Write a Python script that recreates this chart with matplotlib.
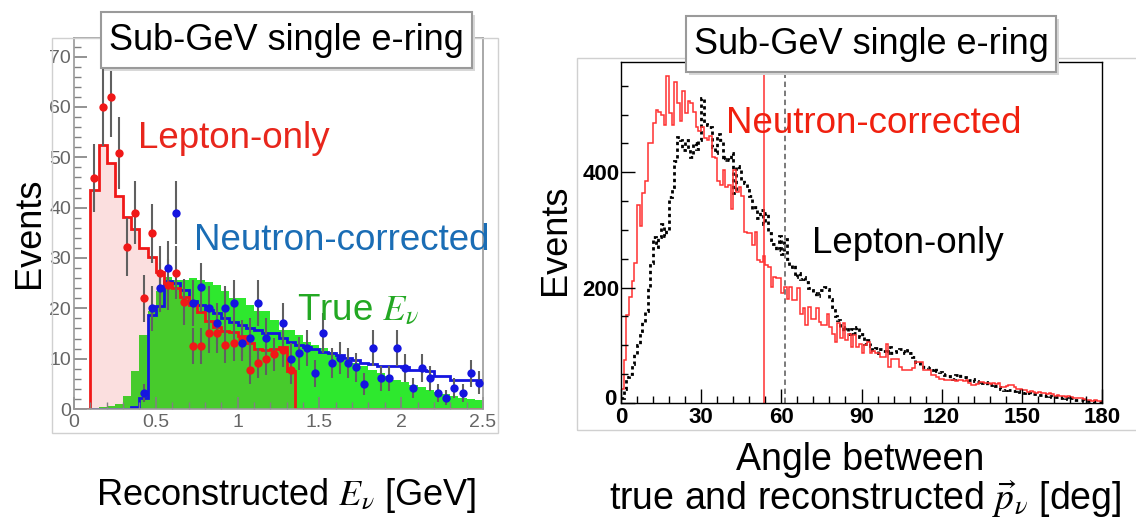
import numpy as np
import matplotlib
matplotlib.use('Agg')
import matplotlib.pyplot as plt
from matplotlib.patches import Rectangle
from matplotlib.ticker import MultipleLocator
from matplotlib.transforms import ScaledTranslation

plt.rcParams['font.family'] = ['Liberation Sans', 'DejaVu Sans']
plt.rcParams['mathtext.fontset'] = 'stix'

# ---- left: reconstructed neutrino energy (0.05 GeV bins, 0 - 2.5 GeV) ----
e_edges = np.linspace(0, 2.5, 51)
true_enu = [0, 0, 0.1, 0.3, 0.6, 1.0, 2.5, 7.5, 14.7, 19.4,
            23.4, 26.3, 25.7, 25.7, 26.0, 25.7, 25.3, 24.7, 23.5, 22.0,
            22.0, 20.7, 19.4, 19.4, 17.7, 15.7, 15.7, 14.7, 13.4, 12.8,
            12.2, 11.4, 10.8, 9.8, 9.1, 8.5, 7.8, 7.2, 6.5, 5.8,
            5.3, 4.8, 4.3, 3.8, 3.4, 3.0, 2.6, 2.2, 2.0, 1.7]
lep_mc = [0, 0, 43.6, 52.4, 48.9, 42.3, 38.2, 35.7, 32.0, 30.2,
          27.2, 25.0, 24.0, 22.2, 20.7, 19.2, 17.4, 16.2, 15.5, 15.2,
          14.6, 13.1, 11.9, 11.8, 11.9, 12.3, 7.5, 0, 0, 0,
          0, 0, 0, 0, 0, 0, 0, 0, 0, 0,
          0, 0, 0, 0, 0, 0, 0, 0, 0, 0]
ncor_mc = [0, 0, 0, 0, 0, 0, 0, 0.3, 2.2, 18.7,
           20.5, 25.5, 25.0, 23.7, 21.4, 20.7, 19.7, 19.0, 18.0, 17.2,
           16.6, 16.0, 15.7, 15.0, 15.0, 14.1, 13.4, 12.8, 12.4, 12.0,
           11.4, 11.2, 10.8, 10.2, 9.8, 9.2, 9.0, 8.5, 8.5, 8.5,
           8.3, 7.8, 7.8, 7.6, 6.5, 6.5, 5.8, 5.8, 5.8, 5.8]

lep_x = [0.125, 0.175, 0.225, 0.275, 0.325, 0.375, 0.425, 0.475, 0.525,
         0.575, 0.625, 0.675, 0.725, 0.775, 0.825, 0.875, 0.925, 0.975,
         1.025, 1.075, 1.125, 1.175, 1.225, 1.275, 1.325]
lep_y = [45.9, 60.0, 62.0, 50.9, 32.2, 39.0, 22.0, 34.9, 27.1, 24.7,
         27.1, 21.2, 12.5, 12.5, 15.1, 15.1, 12.8, 13.1, 14.0, 7.8,
         9.1, 9.9, 10.9, 11.8, 7.8]
lep_err = [6.8, 7.7, 7.9, 7.1, 5.7, 6.2, 4.7, 5.9, 5.2, 5.0,
           5.2, 4.6, 3.5, 3.5, 3.9, 3.9, 3.6, 3.6, 3.7, 2.8,
           3.0, 3.1, 3.3, 3.4, 2.8]

ncor_x = [0.425, 0.475, 0.525, 0.575, 0.625,
          0.725, 0.775, 0.825, 0.875, 0.925, 0.975, 1.025, 1.075, 1.125, 1.175,
          1.275, 1.325, 1.375, 1.425, 1.475, 1.525, 1.575, 1.625, 1.675, 1.725,
          1.775, 1.825, 1.875, 1.925, 1.975, 2.025, 2.075, 2.125, 2.175, 2.225,
          2.275, 2.325, 2.375, 2.425, 2.475]
ncor_y = [3.2, 20.0, 24.1, 28.1, 39.0,
          21.0, 24.2, 20.0, 17.0, 20.0, 21.0, 13.1, 14.2, 21.0, 14.2,
          17.0, 10.0, 11.1, 12.1, 7.1, 15.1, 9.1, 10.1, 9.1, 8.3,
          5.0, 12.1, 6.1, 6.1, 12.1, 8.1, 4.2, 8.1, 6.1, 3.2,
          2.2, 4.2, 3.2, 7.1, 5.2]
ncor_err = [1.8, 4.5, 4.9, 5.3, 6.2,
            4.6, 4.9, 4.5, 4.1, 4.5, 4.6, 3.6, 3.8, 4.6, 3.8,
            4.1, 3.2, 3.3, 3.5, 2.7, 3.9, 3.0, 3.2, 3.0, 2.9,
            2.2, 3.5, 2.5, 2.5, 3.5, 2.8, 2.0, 2.8, 2.5, 1.8,
            1.5, 2.0, 1.8, 2.7, 2.3]

# ---- right: angle between true and reconstructed direction (1 deg bins) ----
ang_edges = np.arange(0, 181)
ang_ncor = [25, 75, 152, 184, 212, 242, 343, 306, 364, 384,
            450, 450, 485, 508, 505, 500, 482, 566, 502, 482,
            557, 520, 488, 540, 502, 523, 520, 505, 479, 471,
            479, 459, 456, 462, 427, 424, 384, 378, 404, 375,
            378, 337, 404, 366, 375, 358, 297, 294, 294, 274,
            297, 248, 245, 254, 239, 236, 201, 219, 216, 216,
            190, 201, 181, 201, 178, 178, 199, 155, 164, 135,
            167, 146, 146, 164, 141, 135, 135, 155, 132, 120,
            106, 138, 112, 138, 109, 120, 97, 117, 97, 103,
            86, 100, 106, 86, 90, 86, 86, 80, 80, 103,
            62, 77, 77, 77, 62, 57, 57, 57, 57, 60,
            71, 71, 71, 57, 57, 57, 48, 48, 45, 42,
            42, 40, 39, 39, 40, 38, 39, 39, 38, 39,
            35, 31, 31, 33, 36, 36, 35, 34, 33, 34,
            33, 34, 28, 28, 29, 31, 31, 27, 25, 24,
            22, 22, 19, 20, 19, 18, 19, 17, 17, 16,
            17, 16, 12, 13, 12, 12, 11, 12, 11, 9,
            8, 8, 8, 7, 5, 5, 4, 5, 4, 3]
ang_lep = [8, 25, 45, 50, 68, 85, 100, 125, 140, 160,
           200, 242, 288, 270, 288, 311, 290, 300, 357, 375,
           420, 461, 455, 438, 455, 441, 427, 450, 440, 456,
           528, 484, 481, 479, 444, 433, 467, 456, 421, 427,
           421, 433, 364, 410, 405, 387, 381, 370, 358, 337,
           340, 320, 335, 310, 330, 294, 282, 275, 265, 290,
           259, 285, 250, 236, 240, 219, 225, 215, 219, 210,
           200, 195, 190, 185, 190, 196, 201, 198, 180, 167,
           150, 144, 132, 125, 132, 120, 128, 122, 132, 115,
           120, 103, 110, 98, 91, 96, 86, 94, 90, 86,
           97, 86, 88, 90, 94, 90, 86, 92, 86, 80,
           71, 70, 66, 62, 62, 60, 58, 60, 56, 54,
           50, 48, 46, 44, 42, 48, 51, 46, 45, 42,
           40, 42, 38, 36, 38, 34, 36, 32, 31, 33,
           30, 28, 24, 22, 25, 22, 21, 20, 22, 19,
           18, 19, 17, 16, 15, 16, 14, 13, 12, 13,
           12, 10, 11, 10, 9, 10, 8, 7, 8, 6,
           6, 5, 6, 4, 4, 3, 3, 2, 2, 1]
ang68_ncor = 53.4
ang68_lep = 61.2

W, H = 1136, 521


def fx(px):
    return px / W


def fy(py):
    return 1 - py / H


def frame(x0, y0, x1, y1, **kw):
    fig.add_artist(Rectangle((fx(x0), fy(y1)), fx(x1) - fx(x0), fy(y0) - fy(y1),
                             transform=fig.transFigure, **kw))


def title_box(x0, y0, x1, y1, text):
    frame(x0 + 3, y0 + 3, x1 + 3, y1 + 3, fc='#d8d8d8', ec='none', zorder=5)
    frame(x0, y0, x1, y1, fc='white', ec='#9a9a9a', lw=1.5, zorder=6)
    fig.text(fx((x0 + x1) / 2), fy((y0 + y1) / 2 + 1), text, fontsize=26,
             ha='center', va='center', zorder=7)


fig = plt.figure(figsize=(W / 100, H / 100), dpi=100)

# ---------------- left panel ----------------
frame(52, 38, 498, 433, fill=False, ec='#d0d0d0', lw=1)
ax1 = fig.add_axes([fx(74), fy(409), fx(483) - fx(74), fy(38) - fy(409)])
ax1.set_xlim(0, 2.5)
ax1.set_ylim(0, 73.7)

ax1.stairs(true_enu, e_edges, fill=True, color='#2ee82e', lw=0)
ax1.stairs(lep_mc, e_edges, fill=True, color='#e62020', alpha=0.14, lw=0)
ax1.stairs(ncor_mc, e_edges, baseline=None, color='#1515e0', lw=2)
ax1.stairs(lep_mc, e_edges, baseline=None, color='#f01818', lw=2)

ax1.errorbar(lep_x, lep_y, yerr=lep_err, fmt='none', ecolor='#606060',
             elinewidth=1.5, zorder=3)
ax1.errorbar(ncor_x, ncor_y, yerr=ncor_err, fmt='none', ecolor='#606060',
             elinewidth=1.5, zorder=3)
ax1.plot(lep_x, lep_y, 'o', color='#f01818', ms=6, mec='none', zorder=4)
ax1.plot(ncor_x, ncor_y, 'o', color='#1515e0', ms=6, mec='none', zorder=4)

for s in ax1.spines.values():
    s.set_color('#9a9a9a')
    s.set_linewidth(1.2)
ax1.yaxis.set_major_locator(MultipleLocator(10))
ax1.yaxis.set_minor_locator(MultipleLocator(2))
ax1.xaxis.set_major_locator(MultipleLocator(0.5))
ax1.xaxis.set_minor_locator(MultipleLocator(0.1))
ax1.tick_params(which='both', direction='in', colors='#808080', labelcolor='#666666',
                labelsize=14, top=False, right=False)
ax1.tick_params(which='major', length=9, width=1.2)
ax1.tick_params(which='minor', length=5, width=1)
ax1.set_xticks([0, 0.5, 1, 1.5, 2, 2.5], ['0', '0.5', '1', '1.5', '2', '2.5'])
ax1.tick_params(axis='y', pad=2)

fig.text(fx(138), fy(148), 'Lepton-only', color='#e8261c', fontsize=26.5, va='baseline')
fig.text(fx(194), fy(250), 'Neutron-corrected', color='#1a6db5', fontsize=26.5, va='baseline')
fig.text(fx(297), fy(320), r'True $E_\nu$', color='#23a823', fontsize=26.5, va='baseline')
fig.text(fx(30), fy(233), 'Events', rotation=90, fontsize=26, ha='center', va='center')
fig.text(fx(286), fy(505), r'Reconstructed $E_\nu$ [GeV]', fontsize=26,
         ha='center', va='baseline')
title_box(101, 12, 472, 68, 'Sub-GeV single e-ring')

# ---------------- right panel ----------------
frame(577, 58, 1140, 430, fill=False, ec='#d0d0d0', lw=1)
ax2 = fig.add_axes([fx(621), fy(403), fx(1102) - fx(621), fy(62) - fy(403)])
ax2.set_xlim(0, 180)
ax2.set_ylim(0, 591)

ax2.stairs(ang_lep, ang_edges, baseline=None, color='black', lw=2,
           linestyle=(0, (1.2, 1.2)))
ax2.stairs(ang_ncor, ang_edges, baseline=None, color='#ff3030', lw=1.1)
ax2.axvline(ang68_ncor, color='#ff3030', lw=1.1)
ax2.axvline(ang68_lep, color='#707070', lw=1.3, linestyle=(0, (3, 2)))

for s in ax2.spines.values():
    s.set_color('black')
    s.set_linewidth(1.0)
ax2.set_xticks(np.arange(0, 181, 30))
ax2.set_yticks([0, 200, 400])
ax2.xaxis.set_minor_locator(MultipleLocator(6))
ax2.yaxis.set_minor_locator(MultipleLocator(50))
ax2.tick_params(which='both', direction='in', top=False, right=False,
                labelsize=16, width=1)
ax2.tick_params(which='major', length=10)
ax2.tick_params(which='minor', length=5)
ax2.tick_params(axis='y', pad=1)
ax2.tick_params(axis='x', pad=3)
for lab in ax2.get_xticklabels() + ax2.get_yticklabels():
    lab.set_fontweight('bold')
# the y "0" sits up and left of the x "0" in the corner
zero = ax2.get_yticklabels()[0]
zero.set_transform(zero.get_transform() + ScaledTranslation(-2 / 72, 4 / 72, fig.dpi_scale_trans))

fig.text(fx(726), fy(133), 'Neutron-corrected', color='#f0200f', fontsize=26.5, va='baseline')
fig.text(fx(812), fy(253), 'Lepton-only', color='black', fontsize=26.5, va='baseline')
fig.text(fx(555), fy(240), 'Events', rotation=90, fontsize=26, ha='center', va='center')
fig.text(fx(860), fy(470), 'Angle between', fontsize=27, ha='center', va='baseline')
fig.text(fx(865), fy(510), r'true and reconstructed $\vec{p}_\nu$ [deg]', fontsize=27,
         ha='center', va='baseline')
title_box(686, 16, 1056, 72, 'Sub-GeV single e-ring')

fig.savefig('out.png', dpi=100)
